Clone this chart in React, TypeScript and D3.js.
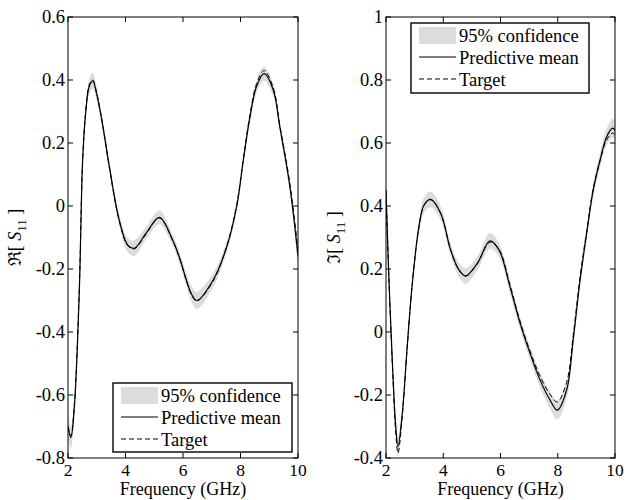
import React from "react";
import * as d3 from "d3";

// ---- Data: real part of S11 ----
const freqRe = [2, 2.1, 2.22, 2.39, 2.51, 2.62, 2.74, 2.86, 3.0, 3.2, 3.44, 3.78, 4.08, 4.31, 4.71, 5.18, 5.64, 5.9, 6.1, 6.3, 6.48, 7.05, 7.52, 7.87, 8.1, 8.33, 8.56, 8.82, 9.14, 9.37, 9.72, 10];
const meanRe = [-0.7, -0.735, -0.64, -0.28, 0.146, 0.3, 0.38, 0.397, 0.355, 0.26, 0.124, -0.044, -0.124, -0.134, -0.087, -0.036, -0.108, -0.17, -0.23, -0.28, -0.3, -0.235, -0.13, 0.0, 0.146, 0.283, 0.38, 0.42, 0.368, 0.25, 0.06, -0.16];
const targetRe = [-0.7, -0.73, -0.63, -0.27, 0.15, 0.305, 0.385, 0.4, 0.357, 0.262, 0.122, -0.046, -0.126, -0.136, -0.09, -0.038, -0.11, -0.172, -0.232, -0.283, -0.302, -0.238, -0.128, 0.005, 0.152, 0.29, 0.388, 0.43, 0.375, 0.255, 0.07, -0.14];
const bandRe = [0.04, 0.035, 0.03, 0.025, 0.022, 0.022, 0.024, 0.025, 0.022, 0.02, 0.018, 0.018, 0.022, 0.025, 0.02, 0.022, 0.018, 0.018, 0.02, 0.025, 0.028, 0.022, 0.018, 0.016, 0.016, 0.018, 0.02, 0.022, 0.02, 0.018, 0.02, 0.03];

// ---- Data: imaginary part of S11 ----
const freqIm = [2, 2.1, 2.22, 2.34, 2.42, 2.57, 2.74, 2.92, 3.15, 3.33, 3.56, 3.91, 4.26, 4.55, 4.78, 5.19, 5.63, 5.95, 6.33, 6.68, 7.03, 7.38, 7.73, 7.98, 8.31, 8.54, 8.78, 9.01, 9.24, 9.48, 9.71, 9.92, 10];
const meanIm = [0.45, 0.176, -0.09, -0.3, -0.364, -0.258, -0.047, 0.155, 0.334, 0.403, 0.421, 0.377, 0.26, 0.197, 0.178, 0.218, 0.289, 0.26, 0.144, 0.029, -0.067, -0.152, -0.216, -0.248, -0.184, -0.025, 0.165, 0.313, 0.451, 0.546, 0.62, 0.647, 0.64];
const targetIm = [0.45, 0.17, -0.1, -0.32, -0.385, -0.265, -0.05, 0.155, 0.333, 0.402, 0.42, 0.376, 0.26, 0.196, 0.177, 0.217, 0.285, 0.262, 0.15, 0.035, -0.06, -0.14, -0.198, -0.222, -0.16, -0.01, 0.175, 0.32, 0.455, 0.545, 0.61, 0.632, 0.625];
const bandIm = [0.03, 0.03, 0.03, 0.03, 0.03, 0.025, 0.022, 0.02, 0.022, 0.025, 0.025, 0.022, 0.02, 0.022, 0.025, 0.022, 0.025, 0.022, 0.02, 0.02, 0.022, 0.024, 0.026, 0.03, 0.026, 0.022, 0.02, 0.02, 0.022, 0.024, 0.026, 0.03, 0.03];

const xTicks = [2, 4, 6, 8, 10];
const yTicksRe = [-0.8, -0.6, -0.4, -0.2, 0, 0.2, 0.4, 0.6];
const yTicksIm = [-0.4, -0.2, 0, 0.2, 0.4, 0.6, 0.8, 1];
const legendLabels = ["95% confidence", "Predictive mean", "Target"];

const FONT = "'Liberation Serif', 'Times New Roman', serif";
const BAND = "#dcdcdc";

type PanelProps = {
  id: string;
  left: number;
  right: number;
  top: number;
  bottom: number;
  yDomain: [number, number];
  yTicks: number[];
  freq: number[];
  mean: number[];
  target: number[];
  band: number[];
  glyph: string;
  labelX: number;
  legend: { x: number; y: number; w: number; h: number };
};

function fmt(v: number) {
  if (Math.abs(v) < 1e-9) return "0";
  return String(Math.round(v * 10) / 10);
}

function Panel(p: PanelProps) {
  const x = d3.scaleLinear().domain([2, 10]).range([p.left, p.right]);
  const y = d3.scaleLinear().domain(p.yDomain).range([p.bottom, p.top]);
  const idx = p.freq.map((_, i) => i);
  const curve = d3.curveCatmullRom.alpha(0.5);
  const area = d3
    .area<number>()
    .x((i) => x(p.freq[i]))
    .y0((i) => y(p.mean[i] - p.band[i]))
    .y1((i) => y(p.mean[i] + p.band[i]))
    .curve(curve);
  const lineMean = d3.line<number>().x((i) => x(p.freq[i])).y((i) => y(p.mean[i])).curve(curve);
  const lineTarget = d3.line<number>().x((i) => x(p.freq[i])).y((i) => y(p.target[i])).curve(curve);
  const tl = 5;
  const lg = p.legend;
  const rowY = [lg.y + 13, lg.y + 35, lg.y + 57];
  const sampleX0 = lg.x + 8;
  const sampleX1 = lg.x + 45;
  const textX = lg.x + 48;
  const midY = (p.top + p.bottom) / 2;
  return (
    <g>
      <defs>
        <clipPath id={p.id}>
          <rect x={p.left} y={p.top} width={p.right - p.left} height={p.bottom - p.top} />
        </clipPath>
      </defs>
      <g clipPath={`url(#${p.id})`}>
        <path d={area(idx) || ""} fill={BAND} stroke="none" />
        <path d={lineTarget(idx) || ""} fill="none" stroke="#000" strokeWidth={1} strokeDasharray="5,3" />
        <path d={lineMean(idx) || ""} fill="none" stroke="#000" strokeWidth={1.2} />
      </g>
      <rect x={p.left} y={p.top} width={p.right - p.left} height={p.bottom - p.top} fill="none" stroke="#000" strokeWidth={1} />
      {xTicks.map((t) => (
        <g key={"x" + t}>
          <line x1={x(t)} x2={x(t)} y1={p.bottom} y2={p.bottom - tl} stroke="#000" />
          <line x1={x(t)} x2={x(t)} y1={p.top} y2={p.top + tl} stroke="#000" />
          <text x={x(t)} y={p.bottom + 18} textAnchor="middle" fontSize={17.5} fontFamily={FONT}>
            {t}
          </text>
        </g>
      ))}
      {p.yTicks.map((t) => (
        <g key={"y" + t}>
          <line x1={p.left} x2={p.left + tl} y1={y(t)} y2={y(t)} stroke="#000" />
          <line x1={p.right} x2={p.right - tl} y1={y(t)} y2={y(t)} stroke="#000" />
          <text x={p.left - 3} y={y(t)} dy="0.35em" textAnchor="end" fontSize={18.5} fontFamily={FONT}>
            {fmt(t)}
          </text>
        </g>
      ))}
      <text x={(p.left + p.right) / 2} y={p.bottom + 37} textAnchor="middle" fontSize={18} fontFamily={FONT}>
        Frequency (GHz)
      </text>
      <text
        transform={`translate(${p.labelX},${midY}) rotate(-90)`}
        textAnchor="middle"
        fontSize={18}
        fontFamily={FONT}
      >
        {p.glyph}[ <tspan fontStyle="italic">S</tspan>
        <tspan fontSize={13} dy={5}>11</tspan>
        <tspan dy={-5}> ]</tspan>
      </text>
      <rect x={lg.x} y={lg.y} width={lg.w} height={lg.h} fill="#fff" stroke="#000" strokeWidth={1.4} />
      <rect x={sampleX0} y={lg.y + 4} width={sampleX1 - sampleX0} height={17} fill={BAND} />
      <line x1={sampleX0} x2={sampleX1} y1={rowY[1] - 1} y2={rowY[1] - 1} stroke="#000" strokeWidth={1.2} />
      <line x1={sampleX0} x2={sampleX1} y1={rowY[2] - 1} y2={rowY[2] - 1} stroke="#000" strokeWidth={1} strokeDasharray="5,3" />
      {legendLabels.map((l, i) => (
        <text key={l} x={textX} y={rowY[i]} dy="0.35em" fontSize={18.5} fontFamily={FONT}>
          {l}
        </text>
      ))}
    </g>
  );
}

export default function App() {
  return (
    <svg width={627} height={500} style={{ position: "absolute", left: 0, top: 0, background: "#fff" }}>
      <Panel
        id="clipRe"
        left={68}
        right={298}
        top={17}
        bottom={458}
        yDomain={[-0.8, 0.6]}
        yTicks={yTicksRe}
        freq={freqRe}
        mean={meanRe}
        target={targetRe}
        band={bandRe}
        glyph="ℜ"
        labelX={21}
        legend={{ x: 113, y: 383, w: 179, h: 69 }}
      />
      <Panel
        id="clipIm"
        left={386}
        right={615}
        top={17}
        bottom={458}
        yDomain={[-0.4, 1]}
        yTicks={yTicksIm}
        freq={freqIm}
        mean={meanIm}
        target={targetIm}
        band={bandIm}
        glyph="ℑ"
        labelX={340}
        legend={{ x: 411, y: 23, w: 178, h: 70 }}
      />
    </svg>
  );
}
